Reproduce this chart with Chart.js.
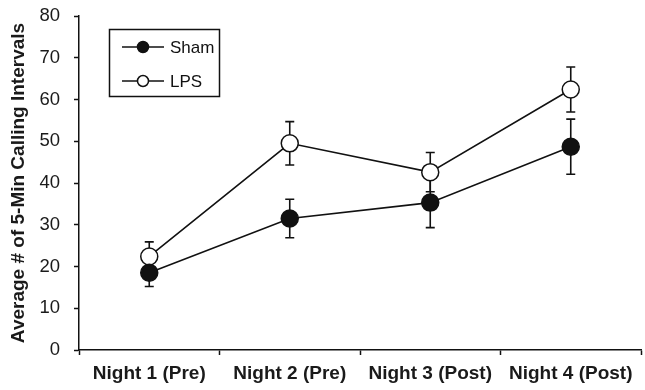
<!DOCTYPE html>
<html>
<head>
<meta charset="utf-8">
<script src="https://cdn.jsdelivr.net/npm/chart.js"></script>
<style>
  html, body { margin: 0; padding: 0; background: #fff; overflow: hidden; }
  #wrap { width: 651px; height: 390px; }
</style>
</head>
<body>
<div id="wrap"><canvas id="callChart" width="651" height="390"></canvas></div>
<script>
const nights = ['Night 1 (Pre)', 'Night 2 (Pre)', 'Night 3 (Post)', 'Night 4 (Post)'];
const shamMean = [18.5, 31.5, 35.3, 48.7];
const shamErr = [3.3, 4.6, 6.0, 6.6];
const lpsMean = [22.4, 49.5, 42.6, 62.4];
const lpsErr = [3.5, 5.2, 4.7, 5.4];
const seriesNames = ['Sham', 'LPS'];
const yTicks = [0, 10, 20, 30, 40, 50, 60, 70, 80];

const errors = [shamErr, lpsErr];

// error bars drawn under the markers
const errorBars = {
    id: 'errorBars',
    beforeDatasetsDraw(chart) {
        const ctx = chart.ctx;
        const y = chart.scales.y;
        ctx.save();
        ctx.strokeStyle = '#111';
        ctx.lineWidth = 1.6;
        chart.data.datasets.forEach(function (ds, i) {
            const meta = chart.getDatasetMeta(i);
            meta.data.forEach(function (pt, j) {
                const v = ds.data[j];
                const e = errors[i][j];
                const top = y.getPixelForValue(v + e);
                const bot = y.getPixelForValue(v - e);
                ctx.beginPath();
                ctx.moveTo(pt.x, top); ctx.lineTo(pt.x, bot);
                ctx.moveTo(pt.x - 4.5, top); ctx.lineTo(pt.x + 4.5, top);
                ctx.moveTo(pt.x - 4.5, bot); ctx.lineTo(pt.x + 4.5, bot);
                ctx.stroke();
            });
        });
        ctx.restore();
    }
};

// boxed legend in the upper left
const boxLegend = {
    id: 'boxLegend',
    afterDraw(chart) {
        const ctx = chart.ctx;
        ctx.save();
        ctx.strokeStyle = '#111';
        ctx.lineWidth = 1.5;
        ctx.strokeRect(109.5, 29.5, 110, 67);
        const rows = [47, 81];
        chart.data.datasets.forEach(function (ds, i) {
            const ry = rows[i];
            ctx.beginPath();
            ctx.moveTo(122, ry); ctx.lineTo(164, ry);
            ctx.lineWidth = 1.5;
            ctx.stroke();
            ctx.beginPath();
            ctx.arc(143, ry, 5.5, 0, Math.PI * 2);
            ctx.fillStyle = ds.pointBackgroundColor;
            ctx.fill();
            ctx.stroke();
            ctx.fillStyle = '#111';
            ctx.font = '17px "Liberation Sans", Arial, sans-serif';
            ctx.textBaseline = 'middle';
            ctx.fillText(ds.label, 170, ry + 1);
        });
        ctx.restore();
    }
};

const ctx = document.getElementById('callChart').getContext('2d');
new Chart(ctx, {
    type: 'line',
    data: {
        labels: nights,
        datasets: [
            {
                label: seriesNames[0],
                data: shamMean,
                borderColor: '#111',
                borderWidth: 1.6,
                pointRadius: 8.5,
                pointBackgroundColor: '#111',
                pointBorderColor: '#111',
                pointBorderWidth: 1.5,
                fill: false,
                tension: 0
            },
            {
                label: seriesNames[1],
                data: lpsMean,
                borderColor: '#111',
                borderWidth: 1.6,
                pointRadius: 8.5,
                pointBackgroundColor: '#fff',
                pointBorderColor: '#111',
                pointBorderWidth: 1.5,
                fill: false,
                tension: 0
            }
        ]
    },
    options: {
        responsive: false,
        animation: false,
        layout: { padding: { top: 16, right: 0, bottom: 0, left: 0 } },
        plugins: {
            legend: { display: false },
            tooltip: { enabled: false }
        },
        scales: {
            x: {
                offset: true,
                afterFit: function (s) { s.height = 40; s.paddingLeft = 0; s.paddingRight = 0; },
                grid: {
                    offset: true,
                    drawOnChartArea: false,
                    tickLength: 5,
                    tickColor: '#111',
                    tickWidth: 1.5
                },
                border: { color: '#111', width: 1.5 },
                ticks: {
                    padding: 7,
                    color: '#1a1a1a',
                    maxRotation: 0,
                    font: { family: '"Liberation Sans", Arial, sans-serif', size: 19, weight: 'bold' }
                }
            },
            y: {
                min: 0,
                max: 80,
                afterFit: function (s) { s.width = 79; s.paddingTop = 0; s.paddingBottom = 0; },
                afterBuildTicks: function (s) { s.ticks = yTicks.map(v => ({ value: v })); },
                grid: {
                    drawOnChartArea: false,
                    tickLength: 5,
                    tickColor: '#111',
                    tickWidth: 1.5
                },
                border: { color: '#111', width: 1.5 },
                ticks: {
                    padding: 14,
                    color: '#1a1a1a',
                    font: { family: '"Liberation Sans", Arial, sans-serif', size: 18.5 }
                },
                title: {
                    display: true,
                    text: 'Average # of 5-Min Calling Intervals',
                    color: '#1a1a1a',
                    padding: { top: 7, bottom: 0 },
                    font: { family: '"Liberation Sans", Arial, sans-serif', size: 19, weight: 'bold' }
                }
            }
        }
    },
    plugins: [errorBars, boxLegend]
});
</script>
</body>
</html>
